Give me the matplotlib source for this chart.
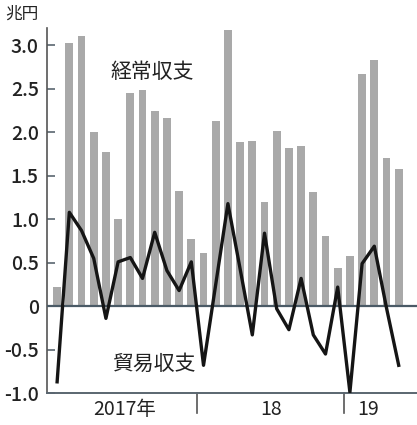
import numpy as np
import matplotlib.pyplot as plt

plt.rcParams['font.family'] = ['Noto Sans CJK JP', 'DejaVu Sans']

# 月次データ 2017年1月〜2019年5月 (兆円)
current_account = [0.22, 3.03, 3.11, 2.00, 1.77, 1.00, 2.45, 2.49, 2.25, 2.17, 1.33, 0.77,
                   0.61, 2.13, 3.18, 1.89, 1.90, 1.20, 2.02, 1.82, 1.84, 1.31, 0.81, 0.44,
                   0.58, 2.67, 2.83, 1.70, 1.58]
trade_balance = [-0.87, 1.08, 0.87, 0.55, -0.14, 0.51, 0.56, 0.32, 0.85, 0.41, 0.18, 0.51,
                 -0.68, 0.25, 1.18, 0.43, -0.33, 0.84, -0.03, -0.27, 0.32, -0.33, -0.55, 0.22,
                 -0.99, 0.49, 0.69, -0.02, -0.68]
year_labels = ['2017年', '18', '19']
year_centers = [5.5, 17.5, 25.5]
year_breaks = [11.5, 23.5]
yticks = [-1.0, -0.5, 0, 0.5, 1.0, 1.5, 2.0, 2.5, 3.0]
ytick_labels = ['-1.0', '-0.5', '0', '0.5', '1.0', '1.5', '2.0', '2.5', '3.0']

x = np.arange(len(current_account))

fig = plt.figure(figsize=(4.17, 4.25), dpi=100)
ax = fig.add_axes([0.113, 0.075, 0.887, 0.859])

ax.bar(x, current_account, width=0.65, color='#a9a9a9', zorder=2)
ax.axhline(0, color='#4a5a66', lw=1.6, zorder=3)
ax.plot(x, trade_balance, color='#151515', lw=2.4, zorder=4)

ax.set_xlim(-0.82, 29.5)
ax.set_ylim(-1.0, 3.2)

for s in ['top', 'right']:
    ax.spines[s].set_visible(False)
ax.spines['left'].set_color('#555555')
ax.spines['bottom'].set_color('#5a6670')
ax.spines['left'].set_linewidth(1.2)
ax.spines['bottom'].set_linewidth(1.4)

ax.set_yticks(yticks)
ax.set_yticklabels(ytick_labels, fontsize=14, color='#222222', fontweight='medium')
ax.tick_params(axis='y', direction='in', length=6, width=1.2, color='#5a6670', pad=6)
ax.set_xticks([])

# 年の区切り線と年ラベル
for xb in year_breaks:
    ax.plot([xb, xb], [0, -0.055], transform=ax.get_xaxis_transform(),
            color='#555555', lw=1.2, clip_on=False)
for xc, lab in zip(year_centers, year_labels):
    ax.text(xc, -0.045, lab, transform=ax.get_xaxis_transform(), ha='center', va='center',
            fontsize=14, color='#222222')

fig.text(152 / 417, 1 - 72 / 425, '経常収支', ha='center', va='center', fontsize=15, color='#222222')
fig.text(155 / 417, 1 - 364 / 425, '貿易収支', ha='center', va='center', fontsize=15, color='#222222')
fig.text(5 / 417, 1 - 14 / 425, '兆円', ha='left', va='center', fontsize=12, color='#222222')

fig.savefig('out.png', dpi=100)
